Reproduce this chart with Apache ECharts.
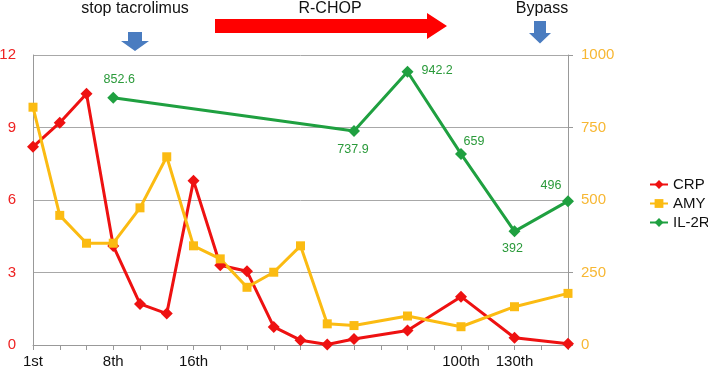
<!DOCTYPE html>
<html>
<head>
<meta charset="utf-8">
<script src="https://cdn.jsdelivr.net/npm/echarts@6/dist/echarts.min.js"></script>
<style>
html,body{margin:0;padding:0;background:#fff;}
#chart{width:708px;height:370px;}
</style>
</head>
<body>
<div id="chart"></div>
<script>
const categories = ['1st','','','8th','','','16th','','','','','','','','','','100th','','130th','',''];
const crp  = [8.2, 9.2, 10.4, 4.1, 1.7, 1.3, 6.8, 3.3, 3.05, 0.75, 0.2, 0.02, 0.25, null, 0.6, null, 2.0, null, 0.3, null, 0.05];
const amy  = [820, 447, 351, 351, 473, 649, 342, 297, 199, 251, 342, 73, 67, null, 100, null, 63, null, 132, null, 178];
const il2r = [null, null, null, 852.6, null, null, null, null, null, null, null, null, 737.9, null, 942.2, null, 659, null, 392, null, 496];
const leftTicks = [0, 3, 6, 9, 12];
const rightTicks = [0, 250, 500, 750, 1000];
const annotations = ['stop tacrolimus', 'R-CHOP', 'Bypass'];

// label placement (style only)
const il2rLabelStyle = {
  3:  {position: 'top', offset: [6, -1]},
  12: {position: 'bottom', offset: [-1, 1]},
  14: {position: 'right', distance: 8, offset: [0, -1]},
  16: {position: 'top', offset: [13, 5]},
  18: {position: 'bottom', offset: [-2, 0]},
  20: {position: 'top', offset: [-17, 2]}
};

const il2rData = il2r.map((v, i) => {
  if (v === null) return null;
  const s = il2rLabelStyle[i] || {position: 'top'};
  return {value: v, label: Object.assign({show: true}, s)};
});

const chart = echarts.init(document.getElementById('chart'));
const blue = '#4a7cc0';
const FF = 'Arial, "Liberation Sans", sans-serif';
chart.setOption({
  animation: false,
  backgroundColor: '#fff',
  textStyle: {fontFamily: FF},
  grid: {left: 33, right: 140, top: 55, bottom: 25, containLabel: false, outerBoundsMode: 'none'},
  legend: {
    orient: 'vertical', left: 644, top: 172,
    itemWidth: 18, itemHeight: 11, itemGap: 4,
    textStyle: {fontSize: 15, color: '#111', fontFamily: FF},
    data: ['CRP', 'AMY', 'IL-2R']
  },
  xAxis: {
    type: 'category', data: categories, boundaryGap: false,
    axisLine: {lineStyle: {color: '#999', width: 1}},
    axisTick: {show: true, interval: 0, length: 5, lineStyle: {color: '#999'}},
    axisLabel: {interval: 0, fontSize: 15, color: '#111', margin: 9}
  },
  yAxis: [
    {
      type: 'value', min: leftTicks[0], max: leftTicks[leftTicks.length - 1], interval: 3,
      axisLine: {show: true, lineStyle: {color: '#999'}},
      axisTick: {show: false},
      splitLine: {show: true, lineStyle: {color: '#a8a8a8', width: 1}},
      axisLabel: {fontSize: 15, color: '#ee2222', margin: 17}
    },
    {
      type: 'value', position: 'right', min: rightTicks[0], max: rightTicks[rightTicks.length - 1], interval: 250,
      axisLine: {show: true, lineStyle: {color: '#999'}},
      axisTick: {show: true, length: 5, lineStyle: {color: '#999'}},
      splitLine: {show: false},
      axisLabel: {fontSize: 15, color: '#f7b733', margin: 13, formatter: v => String(v)}
    }
  ],
  series: [
    {
      name: 'CRP', type: 'line', yAxisIndex: 0, data: crp, connectNulls: true,
      symbol: 'diamond', symbolSize: 12, showAllSymbol: true,
      lineStyle: {color: '#ee1111', width: 3},
      itemStyle: {color: '#ee1111'}
    },
    {
      name: 'AMY', type: 'line', yAxisIndex: 1, data: amy, connectNulls: true,
      symbol: 'rect', symbolSize: 9, showAllSymbol: true,
      lineStyle: {color: '#fbbb12', width: 3},
      itemStyle: {color: '#fbbb12'}
    },
    {
      name: 'IL-2R', type: 'line', yAxisIndex: 1, data: il2rData, connectNulls: true,
      symbol: 'diamond', symbolSize: 12, showAllSymbol: true,
      lineStyle: {color: '#1fa040', width: 3},
      itemStyle: {color: '#1fa040'},
      label: {show: true, fontSize: 12.5, color: '#2a9a3a', fontFamily: FF}
    }
  ],
  graphic: [
    {type: 'text', style: {text: annotations[0], x: 135, y: 9, textAlign: 'center', textVerticalAlign: 'middle', fontSize: 16, fill: '#111', fontFamily: FF}},
    {type: 'text', style: {text: annotations[1], x: 330, y: 9, textAlign: 'center', textVerticalAlign: 'middle', fontSize: 16, fill: '#111', fontFamily: FF}},
    {type: 'text', style: {text: annotations[2], x: 542, y: 9, textAlign: 'center', textVerticalAlign: 'middle', fontSize: 16, fill: '#111', fontFamily: FF}},
    {type: 'polygon', shape: {points: [[128,32],[142,32],[142,41],[149,41],[135,51],[121,41],[128,41]]}, style: {fill: blue}},
    {type: 'polygon', shape: {points: [[534,21],[546,21],[546,33],[551,33],[540,43.5],[529,33],[534,33]]}, style: {fill: blue}},
    {type: 'polygon', shape: {points: [[215,19],[427,19],[427,13],[447,26],[427,39],[427,33],[215,33]]}, style: {fill: '#ff0000'}}
  ]
});
</script>
</body>
</html>
